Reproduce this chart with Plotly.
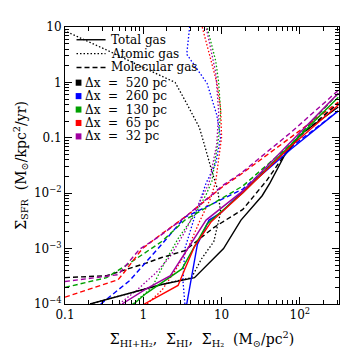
import plotly.graph_objects as go

# resolutions and their colours
resolutions = ['520 pc', '260 pc', '130 pc', '65 pc', '32 pc']
colors = ['#000000', '#0000ff', '#00a000', '#ff0000', '#a000a0']

# Total gas (solid)
tot_520_x = [0.209, 1.72, 4.51, 10.6, 17.7, 33.0, 41.4, 63.4, 103, 310]
tot_520_y = [1.0e-4, 2.25e-4, 2.99e-4, 1.0e-3, 3.27e-3, 9.0e-3, 0.0152, 0.0474, 0.116, 0.36]
tot_260_x = [3.59, 4.91, 6.92, 10.0, 18.7, 77.4, 310]
tot_260_y = [1.0e-4, 1.19e-3, 3.27e-3, 4.52e-3, 0.011, 0.063, 0.306]
tot_130_x = [0.753, 1.09, 3.12, 6.53, 18.7, 77.4, 310]
tot_130_y = [1.0e-4, 1.56e-4, 4.30e-4, 2.78e-3, 0.0102, 0.0771, 0.54]
tot_65_x = [1.03, 2.78, 3.40, 4.51, 7.31, 18.7, 77.4, 310]
tot_65_y = [1.0e-4, 2.16e-4, 4.30e-4, 1.09e-3, 3.01e-3, 0.0102, 0.0711, 0.391]
tot_32_x = [0.535, 1.09, 2.22, 3.40, 6.34, 18.7, 77.4, 310]
tot_32_y = [1.0e-4, 1.88e-4, 3.24e-4, 8.23e-4, 3.27e-3, 0.011, 0.0838, 0.635]

# Atomic gas (dotted)
hi_520_x = [0.209, 1.72, 4.14, 5.51, 7.96, 9.72, 8.93, 7.53, 6.0, 5.20, 3.40, 2.55, 1.09, 0.349, 0.1]
hi_520_y = [1.0e-4, 2.25e-4, 2.99e-4, 6.45e-4, 1.34e-3, 4.52e-3, 0.0115, 0.0248, 0.0771, 0.154, 0.478, 1.0, 1.75, 3.78, 8.5]
hi_260_x = [3.40, 3.21, 3.40, 4.51, 6.34, 8.43, 9.72, 8.68, 6.53, 3.59, 3.91]
hi_260_y = [1.0e-4, 2.65e-4, 1.0e-3, 3.69e-3, 0.0152, 0.0343, 0.103, 0.26, 0.96, 3.22, 10]
hi_130_x = [0.731, 1.29, 1.92, 2.78, 4.51, 6.34, 7.53, 9.18, 9.72, 9.18, 8.43, 6.53]
hi_130_y = [1.0e-4, 1.99e-4, 5.95e-4, 1.51e-3, 4.0e-3, 9.38e-3, 0.0165, 0.103, 0.294, 1.0, 2.42, 10]
hi_65_x = [1.12, 1.72, 2.55, 3.70, 5.20, 7.31, 8.43, 10.0, 9.72, 8.68, 5.66]
hi_65_y = [1.0e-4, 1.76e-4, 3.97e-4, 1.0e-3, 3.01e-3, 8.30e-3, 0.0165, 0.103, 0.346, 1.0, 10]
hi_32_x = [0.491, 0.82, 1.45, 2.22, 3.40, 4.91, 6.92, 8.68, 9.18, 8.43, 6.34]
hi_32_y = [1.0e-4, 1.76e-4, 3.66e-4, 7.29e-4, 2.01e-3, 5.53e-3, 0.0152, 0.0771, 0.294, 1.49, 10]

# Molecular gas (dashed)
h2_520_x = [0.1, 0.34, 1.09, 1.72, 3.40, 7.96, 18.7, 38.0, 84.3, 310]
h2_520_y = [2.99e-4, 3.24e-4, 5.48e-4, 6.9e-4, 9.2e-4, 2.4e-3, 5.10e-3, 0.0172, 0.0871, 0.424]
h2_260_x = [0.286, 0.671, 1.72, 3.40, 18.7, 77.4, 310]
h2_260_y = [1.0e-4, 2.65e-4, 1.19e-3, 3.69e-3, 0.0119, 0.0682, 0.306]
h2_130_x = [0.1, 0.34, 0.671, 1.72, 3.40, 18.7, 77.4, 310]
h2_130_y = [1.99e-4, 2.99e-4, 5.48e-4, 1.34e-3, 3.27e-3, 0.0135, 0.0771, 0.635]
h2_65_x = [0.1, 0.478, 0.551, 0.973, 1.72, 3.40, 10.6, 17.7, 77.4, 310]
h2_65_y = [1.33e-4, 2.75e-4, 3.51e-4, 1.0e-3, 1.85e-3, 3.69e-3, 0.0135, 0.022, 0.103, 0.441]
h2_32_x = [0.1, 0.478, 0.893, 1.58, 3.40, 4.51, 10.6, 17.7, 77.4, 310]
h2_32_y = [2.54e-4, 3.38e-4, 9.68e-4, 1.64e-3, 3.69e-3, 5.10e-3, 0.0141, 0.0229, 0.126, 0.718]

# tick labels
x_ticks = [0.1, 1, 10, 100]
x_ticktext = ['0.1', '1', '10', '10<sup>2</sup>']
y_ticks = [1e-4, 1e-3, 1e-2, 0.1, 1, 10]
y_ticktext = ['10<sup>\u22124</sup>', '10<sup>\u22123</sup>', '10<sup>\u22122</sup>', '0.1', '1', '10']

total = [(tot_520_x, tot_520_y), (tot_260_x, tot_260_y), (tot_130_x, tot_130_y),
         (tot_65_x, tot_65_y), (tot_32_x, tot_32_y)]
atomic = [(hi_520_x, hi_520_y), (hi_260_x, hi_260_y), (hi_130_x, hi_130_y),
          (hi_65_x, hi_65_y), (hi_32_x, hi_32_y)]
molecular = [(h2_520_x, h2_520_y), (h2_260_x, h2_260_y), (h2_130_x, h2_130_y),
             (h2_65_x, h2_65_y), (h2_32_x, h2_32_y)]

FONT = 'DejaVu Serif'
DOT = '1.5px,2px'
DASH = '5px,3px'

fig = go.Figure()
for group, dash, w in [(atomic, DOT, 1.3), (molecular, DASH, 1.4), (total, 'solid', 1.4)]:
    for i, (xs, ys) in enumerate(group):
        fig.add_trace(go.Scatter(
            x=xs, y=ys, mode='lines', showlegend=False,
            line=dict(color=colors[i], width=w, dash=dash),
        ))

# hand-made legend (line styles, then colour squares)
styles = [('Total gas', 'solid'), ('Atomic gas', DOT), ('Molecular gas', DASH)]
for k, (label, dash) in enumerate(styles):
    yy = 0.954 - k * 0.05
    fig.add_shape(type='line', xref='paper', yref='paper', x0=0.042, x1=0.148, y0=yy, y1=yy,
                  line=dict(color='black', width=1.4, dash=dash))
    fig.add_annotation(xref='paper', yref='paper', x=0.162, y=yy, text=label, showarrow=False,
                       xanchor='left', yanchor='middle', font=dict(family=FONT, size=12, color='black'))
for k, (res, col) in enumerate(zip(resolutions, colors)):
    yy = 0.799 - k * 0.0485
    fig.add_shape(type='rect', xref='paper', yref='paper', x0=0.039, x1=0.06,
                  y0=yy - 0.011, y1=yy + 0.011, line=dict(width=0), fillcolor=col)
    fig.add_annotation(xref='paper', yref='paper', x=0.066, y=yy,
                       text='\u0394x\u00a0\u00a0=\u00a0\u00a0' + res, showarrow=False,
                       xanchor='left', yanchor='middle', font=dict(family=FONT, size=12, color='black'))

def minor_vals(lo, hi):
    vals = []
    for e in range(lo, hi):
        vals += [m * 10.0 ** e for m in range(2, 10)]
    return vals

axis_common = dict(
    type='log', showgrid=False, zeroline=False, showline=True, linecolor='black', linewidth=1,
    mirror='allticks', ticks='inside', ticklen=7, tickcolor='black', tickwidth=1,
    tickfont=dict(family=FONT, size=12, color='black'),
)
fig.update_xaxes(**axis_common, range=[-1, 2.5], tickvals=x_ticks, ticktext=x_ticktext,
                 minor=dict(ticks='inside', ticklen=4, tickcolor='black', showgrid=False,
                            tickmode='array', tickvals=minor_vals(-1, 3)),
                 title=dict(text='\u03a3<sub>HI+H\u2082</sub>,  \u03a3<sub>HI</sub>,  \u03a3<sub>H\u2082</sub>  (M<sub>\u2299</sub>/pc<sup>2</sup>)',
                            font=dict(family=FONT, size=14, color='black'), standoff=12))
fig.update_yaxes(**axis_common, range=[-4, 1], tickvals=y_ticks, ticktext=y_ticktext,
                 minor=dict(ticks='inside', ticklen=4, tickcolor='black', showgrid=False,
                            tickmode='array', tickvals=minor_vals(-4, 1)),
                 title=dict(text='\u03a3<sub>SFR</sub>  (M<sub>\u2299</sub>/kpc<sup>2</sup>/yr)',
                            font=dict(family=FONT, size=14, color='black'), standoff=4))
# page body adds an 8px offset, so the figure is drawn a bit smaller
fig.update_layout(
    width=351, height=351, margin=dict(l=48, r=20, t=12, b=55),
    paper_bgcolor='white', plot_bgcolor='white', showlegend=False,
)
fig.write_html('out.html')
